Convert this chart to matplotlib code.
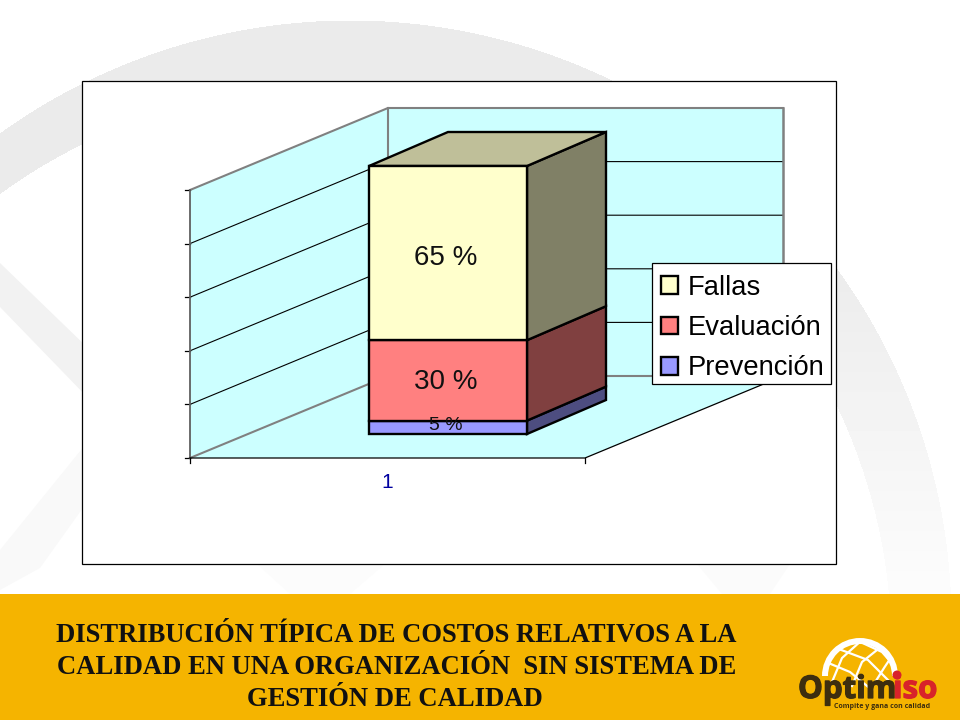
import numpy as np
import matplotlib
matplotlib.use('Agg')
import matplotlib.pyplot as plt
import matplotlib.patheffects as pe
from matplotlib.patches import Polygon, Rectangle, Wedge, Circle

# chart values
categories = ['1']
series_names = ['Prevención', 'Evaluación', 'Fallas']
series_values = [5, 30, 65]
value_labels = ['5 %', '30 %', '65 %']
axis_ticks = [0, 20, 40, 60, 80, 100]

front_colors = ['#9999FF', '#FF8080', '#FFFFCC']
side_colors = ['#4D4D80', '#804040', '#808066']
top_color = '#BFBF99'
wall_color = '#CCFFFF'
banner_color = '#F5B400'

title_lines = ['DISTRIBUCIÓN TÍPICA DE COSTOS RELATIVOS A LA',
               'CALIDAD EN UNA ORGANIZACIÓN  SIN SISTEMA DE',
               'GESTIÓN DE CALIDAD']

plt.rcParams['font.family'] = ['Liberation Sans', 'DejaVu Sans']

fig = plt.figure(figsize=(9.6, 7.2), dpi=100)

# slide layer, in pixels
bg = fig.add_axes([0, 0, 1, 1])
bg.axis('off')

# watermark ring behind the chart
yy, xx = np.mgrid[0:594, 0:960]
outer = (xx - 350) ** 2 + (yy - 621) ** 2 < 601 ** 2
inner = (xx - 330) ** 2 + (yy - 647) ** 2 < 561 ** 2
shade = np.clip(235 + (yy - 250) / 340 * 17, 235, 252)
page = np.full(yy.shape, 255.0)
page[outer & ~inner] = shade[outer & ~inner]
bg.imshow(page, cmap='gray', vmin=0, vmax=255, extent=(0, 960, 594, 0), aspect='auto', zorder=0)
bg.set_xlim(0, 960)
bg.set_ylim(720, 0)

bg.add_patch(Polygon([(0, 263), (90, 350), (90, 400), (0, 307)], fc='#F2F2F2', ec='none', zorder=1))
bg.add_patch(Polygon([(85, 445), (85, 505), (40, 568), (0, 590), (0, 550)], fc='#F9F9F9', ec='none', zorder=1))
bg.add_patch(Polygon([(257, 564), (290, 594), (350, 594), (385, 564)], fc='#FCFCFC', ec='none', zorder=1))
bg.add_patch(Polygon([(697, 564), (722, 594), (770, 594), (790, 564)], fc='#FBFBFB', ec='none', zorder=1))

bg.add_patch(Rectangle((82, 81), 754, 483, fc='white', ec='black', lw=0.9, zorder=2))
bg.add_patch(Rectangle((0, 594), 960, 126, fc=banner_color, ec='none', zorder=2))

for line, xpos, ypos in zip(title_lines, [396, 397, 395], [642, 674, 706]):
    bg.text(xpos, ypos, line, family='Liberation Serif', weight='bold', fontsize=19.2,
            ha='center', va='baseline', color='#111111', zorder=3)

# logo
ring = Wedge((860, 676), 38, 180, 360, width=6, fc='white', ec='none', zorder=3)
bg.add_patch(ring)
globe = Circle((860, 676), 35, transform=bg.transData)
for pts in [[(826, 662), (850, 672), (872, 690)], [(836, 648), (868, 660), (890, 682)],
            [(856, 640), (882, 652), (896, 668)], [(832, 682), (842, 658), (862, 640)],
            [(852, 686), (862, 662), (882, 646)], [(874, 684), (884, 668), (892, 656)]]:
    arr = np.array(pts)
    ln, = bg.plot(arr[:, 0], arr[:, 1], color='white', lw=1.6, zorder=3)
    ln.set_clip_path(globe)
heavy = [pe.withStroke(linewidth=0.9, foreground='#3D2E0F')]
bg.text(798, 698, 'Optim', family='Open Sans', weight='bold', fontsize=22.5, color='#3D2E0F',
        va='baseline', zorder=4, path_effects=heavy)
heavy_red = [pe.withStroke(linewidth=0.9, foreground='#D8232A')]
bg.text(893, 698, 'iso', family='Open Sans', weight='bold', fontsize=22.5, color='#D8232A',
        va='baseline', zorder=4, path_effects=heavy_red)
bg.add_patch(Circle((897, 675), 4.5, fc='#D8232A', ec='none', zorder=4))
bg.text(882, 706, 'Compite y gana con calidad', family='Open Sans', weight='bold', fontsize=5,
        color='#3D2E0F', ha='center', va='center', zorder=4)

# chart layer: x in pixels, y in axis units (0 at the front floor edge)
PX_PER_UNIT = 2.68
ax = fig.add_axes([0, 0, 1, 1], zorder=2)
ax.patch.set_alpha(0)
ax.set_xlim(0, 960)
ax.set_ylim((458 - 720) / PX_PER_UNIT, 458 / PX_PER_UNIT)
ax.axis('off')

left, right, back_l, back_r = 190, 585, 388, 783
wall_dy = 82 / PX_PER_UNIT
top_v = axis_ticks[-1]

ax.add_patch(Polygon([(left, 0), (back_l, wall_dy), (back_l, wall_dy + top_v), (left, top_v)],
                     fc=wall_color, ec='none', zorder=1))
ax.add_patch(Polygon([(back_l, wall_dy), (back_r, wall_dy), (back_r, wall_dy + top_v), (back_l, wall_dy + top_v)],
                     fc=wall_color, ec='none', zorder=1))
ax.add_patch(Polygon([(left, 0), (right, 0), (back_r, wall_dy), (back_l, wall_dy)],
                     fc=wall_color, ec='none', zorder=1))

for v in axis_ticks:
    col, lw = ('#808080', 1.5) if v in (0, top_v) else ('black', 0.8)
    ax.plot([left, back_l, back_r], [v, v + wall_dy, v + wall_dy], color=col, lw=lw, zorder=2,
            solid_joinstyle='miter')
    ax.plot([left - 5, left], [v, v], color='black', lw=0.9, zorder=2)
ax.plot([back_l, back_l], [wall_dy, wall_dy + top_v], color='#808080', lw=1.5, zorder=2)
ax.plot([back_r, back_r], [wall_dy, wall_dy + top_v], color='#808080', lw=1.8, zorder=2)
ax.plot([left, left], [0, top_v], color='#606060', lw=1.3, zorder=2)
ax.plot([left, right, back_r], [0, 0, wall_dy], color='black', lw=0.9, zorder=2)
ax.plot([left, left], [0, -1.7], color='black', lw=0.9, zorder=2)
ax.plot([right, right], [0, -1.7], color='black', lw=0.9, zorder=2)

# stacked bar
bar_x, bar_w = 448, 158
bar_lift = 24 / PX_PER_UNIT
bar_dx, bar_dy = 79, 34 / PX_PER_UNIT
bottoms = bar_lift + np.concatenate([[0], np.cumsum(series_values)[:-1]])
x0, x1 = bar_x - bar_w / 2, bar_x + bar_w / 2
bars = ax.bar([bar_x] * 3, series_values, bar_w, bottom=bottoms, color=front_colors,
              edgecolor='black', linewidth=1.7, zorder=4)
for b, v, col in zip(bottoms, series_values, side_colors):
    ax.add_patch(Polygon([(x1, b), (x1 + bar_dx, b + bar_dy), (x1 + bar_dx, b + v + bar_dy), (x1, b + v)],
                         fc=col, ec='black', lw=1.7, zorder=3))
bar_top = bottoms[-1] + series_values[-1]
ax.add_patch(Polygon([(x0, bar_top), (x1, bar_top), (x1 + bar_dx, bar_top + bar_dy), (x0 + bar_dx, bar_top + bar_dy)],
                     fc=top_color, ec='black', lw=1.7, zorder=3))

for b, v, label in zip(bottoms, series_values, value_labels):
    size = 14 if v < 10 else 20
    ypos = b + v / 2 + (0.6 if v < 10 else -1.9 if v > 50 else -0.6)
    ax.text(446, ypos, label, fontsize=size, ha='center', va='center', color='#111111', zorder=6)

ax.text(387, -9.3, categories[0], fontsize=15, ha='center', va='center', color='#0000A0', zorder=6)

# legend box drawn apart so the rows can sit lower in it, as in the slide
ax.add_patch(Rectangle((652, 263), 179, 121, transform=bg.transData, fc='white', ec='black', lw=0.9, zorder=6.5))
handles = [bars[2], bars[1], bars[0]]
labels = [series_names[2], series_names[1], series_names[0]]
leg = ax.legend(handles, labels, loc='upper left', bbox_to_anchor=(653 / 960, 1 - 267 / 720),
                bbox_transform=fig.transFigure, fontsize=19.7, frameon=False,
                borderaxespad=0, handlelength=0.62, handleheight=0.62,
                handletextpad=0.36, labelspacing=0.52, borderpad=0.29)
leg.set_zorder(7)

fig.savefig('out.png', dpi=100)
